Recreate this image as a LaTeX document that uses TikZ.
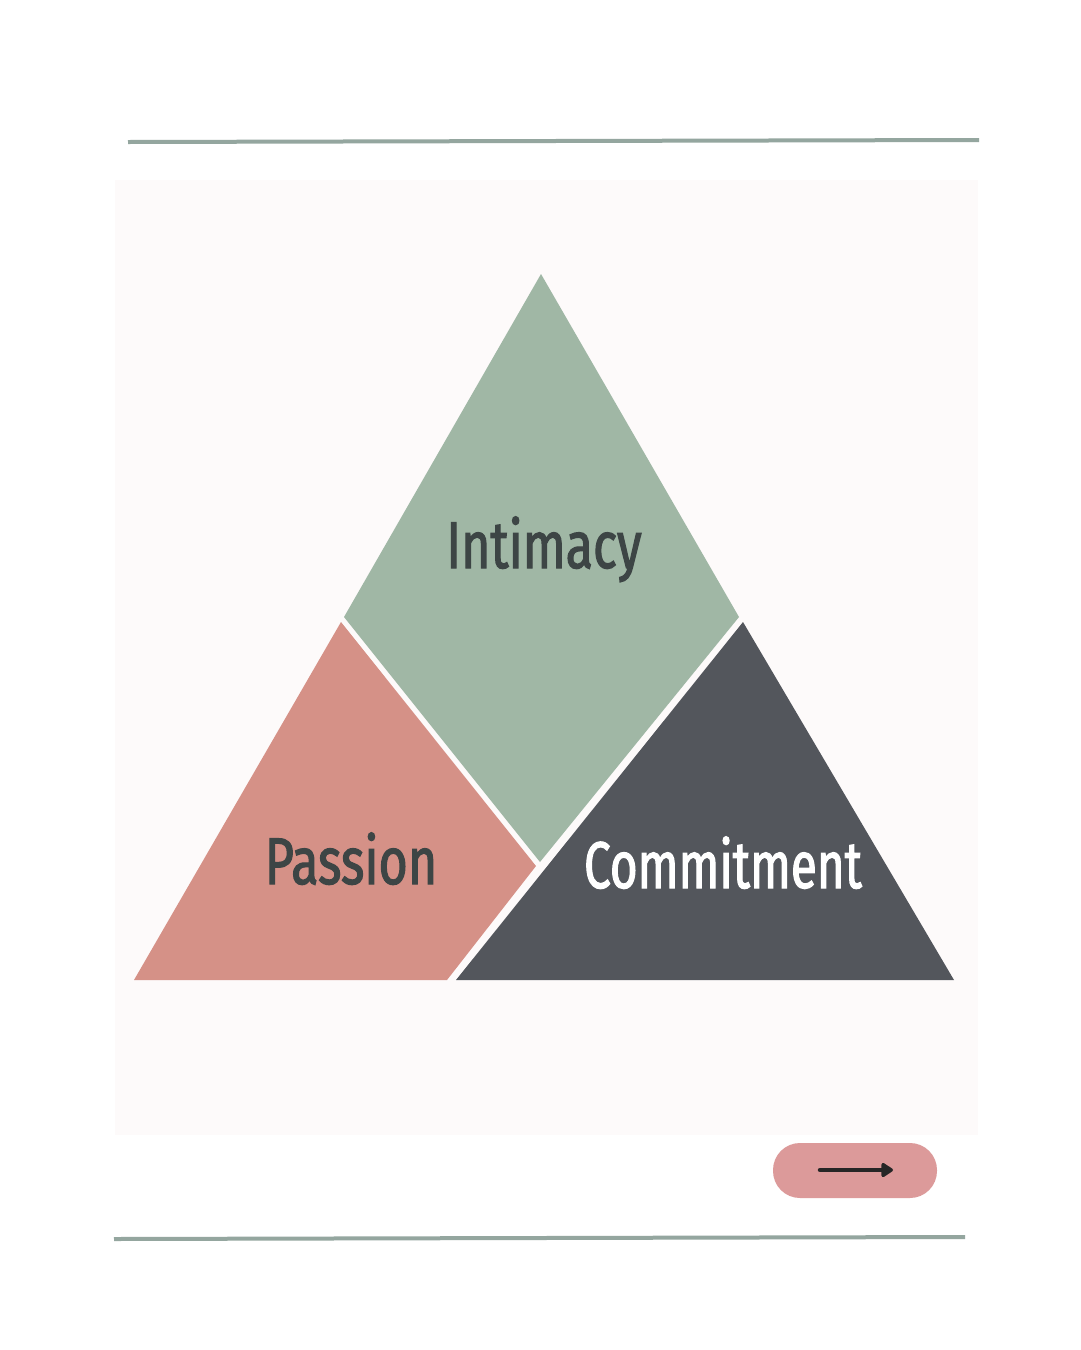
\documentclass[tikz,border=0pt]{standalone}
\usepackage{fontspec}
\newfontfamily\lblfont{Fira Sans}[FakeStretch=0.76,FakeBold=1.7]
\usetikzlibrary{arrows.meta}
\definecolor{sage}{HTML}{A0B7A5}
\definecolor{rose}{HTML}{D59187}
\definecolor{slate}{HTML}{53565C}
\definecolor{rule}{HTML}{94A69F}
\definecolor{panel}{HTML}{FDFAFA}
\definecolor{btn}{HTML}{DC9A9A}
\definecolor{ink}{HTML}{3D4545}
\tikzset{
  rulebar/.style={draw=rule,line width=4pt},
  lbl/.style={font=\lblfont\fontsize{66}{66}\selectfont,inner sep=0pt,anchor=base},
  pill/.style={fill=btn,rounded corners=27pt,draw=none},
}
\begin{document}
\begin{tikzpicture}[x=1pt,y=-1pt]
\useasboundingbox (0,0) rectangle (1080,1350);
\fill[white] (0,0) rectangle (1080,1350);
\fill[panel] (115,180) rectangle (978,1135);
% rules
\coordinate (t1) at (128,142); \coordinate (t2) at (979,140);
\draw[rulebar] (t1) -- (t2);
\coordinate (b1) at (114,1239); \coordinate (b2) at (965,1237);
\draw[rulebar] (b1) -- (b2);
% pieces
\fill[sage] (541,274) -- (739,617) -- (540,862) -- (344,617) -- cycle;
\fill[rose] (341,622) -- (536,866) -- (447,980) -- (134,980) -- cycle;
\fill[slate] (743,622) -- (954,980) -- (456,980) -- cycle;
% labels
\node[lbl,text=ink] (intimacy) at (544,568) {Intimacy};
\node[lbl,text=ink] (passion) at (351,884) {Passion};
\node[lbl,text=white] (commitment) at (723,888) {\scalebox{0.95}[1]{Commitment}};
% button
\fill[pill] (773,1143) rectangle (937,1198);
\coordinate (a1) at (820,1170); \coordinate (a2) at (893,1170);
\draw[line width=4.5pt,draw=black!85,line cap=round,-{Triangle[length=13pt,width=16pt,round]}] (a1) -- (a2);
\end{tikzpicture}
\end{document}
